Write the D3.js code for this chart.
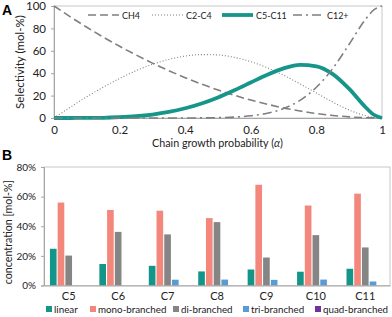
<!DOCTYPE html>
<html>
<head>
<meta charset="utf-8">
<script src="https://cdn.jsdelivr.net/npm/d3@7"></script>
<style>
  body { margin: 0; background: #fff; }
  svg { font-family: Lato, "Open Sans", sans-serif; }
</style>
</head>
<body>
<div id="chart"></div>
<script>
// panel A: selectivity vs chain growth probability
var alpha = [0, 0.05, 0.1, 0.15, 0.2, 0.25, 0.3, 0.35, 0.4, 0.45, 0.5, 0.55, 0.6, 0.65, 0.7, 0.75, 0.8, 0.85, 0.9, 0.95, 0.975, 1];
var ch4   = [100, 90.3, 81, 72.3, 64, 56.3, 49, 42.3, 36, 30.3, 25, 20.3, 16, 12.3, 9, 6.3, 4, 2.3, 1, 0.3, 0.1, 0];
var c2c4  = [0, 9.7, 19, 27.5, 35.3, 42.2, 47.9, 52.3, 55.3, 56.6, 56.3, 54.1, 50.3, 44.9, 38.2, 30.5, 22.3, 14.2, 7.1, 2, 0.5, 0];
var c5c11 = [0, 0, 0.1, 0.2, 0.7, 1.6, 3.1, 5.4, 8.7, 13, 18.4, 24.8, 31.7, 38.6, 44.3, 47.4, 46.2, 39.2, 26, 9.6, 2.9, 0];
var c12   = [0, 0, 0, 0, 0, 0, 0, 0, 0, 0.1, 0.3, 0.8, 2, 4.2, 8.5, 15.8, 27.5, 44.3, 65.9, 88.2, 96.5, 100];
var xTicksA = [0, 0.2, 0.4, 0.6, 0.8, 1];
var yTicksA = [0, 20, 40, 60, 80, 100];

// panel B: isomer distribution
var carbons = ["C5", "C6", "C7", "C8", "C9", "C10", "C11"];
var isomers = ["linear", "mono-branched", "di-branched", "tri-branched", "quad-branched"];
var linear = [24.8, 14.5, 13.3, 9.5, 10.8, 9.3, 11.3];
var mono   = [56, 51, 50.5, 45.5, 68, 54, 62];
var di     = [20.2, 36.2, 34.5, 42.8, 18.9, 34, 25.7];
var tri    = [0, 0, 3.9, 4, 3.8, 4, 2.7];
var quad   = [0, 0, 0, 0, 0, 0, 0];
var yTicksB = [0, 20, 40, 60, 80];

var teal = "#16968a";
var lineGrey = "#7f7f7f";
var barColors = ["#14958a", "#f4877c", "#858585", "#5b9bd5", "#7030a0"];
var textCol = "#222";

var svg = d3.select("#chart").append("svg")
  .attr("width", 392)
  .attr("height", 317);

// scale a text's font so it covers the width seen in the reference
function fit(sel, w) {
  var fs = parseFloat(sel.attr("font-size"));
  var len = sel.node().getComputedTextLength();
  if (len > 0) sel.attr("font-size", (fs * w / len).toFixed(2));
  return sel;
}
// same, but one font size for a whole set of texts
function fitAll(list, total) {
  var fs = parseFloat(list[0].attr("font-size"));
  var len = d3.sum(list, function (t) { return t.node().getComputedTextLength(); });
  list.forEach(function (t) { t.attr("font-size", (fs * total / len).toFixed(2)); });
}

// ---------- panel A ----------
var A = { left: 54, right: 382, top: 6, bottom: 118 };
var xA = d3.scaleLinear().domain([0, 1]).range([A.left, A.right]);
var yA = d3.scaleLinear().domain([0, 100]).range([A.bottom, A.top]);

svg.append("rect")
  .attr("x", A.left).attr("y", A.top)
  .attr("width", A.right - A.left).attr("height", A.bottom - A.top)
  .attr("fill", "none").attr("stroke", "#c8c8c8").attr("stroke-width", 1);

var gxA = svg.append("g").attr("transform", "translate(0," + A.bottom + ")")
  .call(d3.axisBottom(xA).tickValues(xTicksA).tickSize(0).tickPadding(8).tickFormat(d3.format("~g")));
var gyA = svg.append("g").attr("transform", "translate(" + A.left + ",0)")
  .call(d3.axisLeft(yA).tickValues(yTicksA).tickSize(3).tickPadding(5));
[gxA, gyA].forEach(function (g) {
  g.select(".domain").attr("stroke", "#a6a6a6");
  g.selectAll(".tick line").attr("stroke", "#a6a6a6");
  g.selectAll("text").attr("font-size", 11.5).attr("fill", textCol).attr("font-family", "Lato");
});

var seriesA = [
  { name: "CH4", values: ch4, color: lineGrey, width: 1.6, dash: "8,4" },
  { name: "C2-C4", values: c2c4, color: lineGrey, width: 1.1, dash: "1,2" },
  { name: "C5-C11", values: c5c11, color: teal, width: 3.8, dash: null },
  { name: "C12+", values: c12, color: lineGrey, width: 1.6, dash: "9,4,2,4" }
];

var line = d3.line()
  .x(function (d, i) { return xA(alpha[i]); })
  .y(function (d) { return yA(d); })
  .curve(d3.curveMonotoneX);

seriesA.forEach(function (s) {
  svg.append("path")
    .datum(s.values)
    .attr("d", line)
    .attr("fill", "none")
    .attr("stroke", s.color)
    .attr("stroke-width", s.width)
    .attr("stroke-dasharray", s.dash);
});

// legend A
var legA = [88, 152, 222, 293];
var legAText = [];
seriesA.forEach(function (s, i) {
  var lx = legA[i];
  svg.append("line")
    .attr("x1", lx).attr("x2", lx + 31)
    .attr("y1", 15).attr("y2", 15)
    .attr("stroke", s.color).attr("stroke-width", s.width)
    .attr("stroke-dasharray", s.dash);
  legAText.push(svg.append("text")
    .attr("x", lx + 34).attr("y", 19)
    .attr("font-size", 11).attr("fill", textCol)
    .text(s.name));
});
fitAll(legAText, 96);

var titleA = svg.append("text")
  .attr("x", 152).attr("y", 147)
  .attr("font-size", 12).attr("fill", textCol)
  .html("Chain growth probability (<tspan font-style='italic'>α</tspan>)");
fit(titleA, 131);

var yLabA = svg.append("text")
  .attr("transform", "translate(24," + ((A.top + A.bottom) / 2) + ") rotate(-90)")
  .attr("text-anchor", "middle").attr("font-size", 12).attr("fill", textCol)
  .text("Selectivity (mol-%)");
fit(yLabA, 94);

svg.append("text")
  .attr("x", 2).attr("y", 15)
  .attr("font-size", 14).attr("font-weight", "bold").attr("font-family", "Liberation Sans, Arial")
  .text("A");

// ---------- panel B ----------
var B = { left: 44, right: 390, top: 167, bottom: 285.5 };
var x0 = d3.scaleBand().domain(carbons).range([B.left, B.right]).paddingInner(0.24).paddingOuter(0.12);
var x1 = d3.scaleBand().domain(isomers).range([0, x0.bandwidth()]).paddingInner(0.14);
var yB = d3.scaleLinear().domain([0, 80]).range([B.bottom, B.top]);

svg.append("rect")
  .attr("x", B.left).attr("y", B.top)
  .attr("width", B.right - B.left).attr("height", B.bottom - B.top)
  .attr("fill", "none").attr("stroke", "#c8c8c8").attr("stroke-width", 1);

var tableB = carbons.map(function (c, i) {
  return { carbon: c, vals: [linear[i], mono[i], di[i], tri[i], quad[i]] };
});

var groups = svg.selectAll(".grp").data(tableB).enter().append("g")
  .attr("class", "grp")
  .attr("transform", function (d) { return "translate(" + x0(d.carbon) + ",0)"; });

groups.selectAll("rect")
  .data(function (d) { return d.vals.map(function (v, j) { return { key: isomers[j], v: v, j: j }; }); })
  .enter().append("rect")
  .attr("x", function (d) { return x1(d.key); })
  .attr("y", function (d) { return yB(d.v); })
  .attr("width", x1.bandwidth())
  .attr("height", function (d) { return yB(0) - yB(d.v); })
  .attr("fill", function (d) { return barColors[d.j]; });

var gyB = svg.append("g").attr("transform", "translate(" + B.left + ",0)")
  .call(d3.axisLeft(yB).tickValues(yTicksB).tickSize(3).tickPadding(5).tickFormat(function (d) { return d + "%"; }));
var gxB = svg.append("g").attr("transform", "translate(0," + B.bottom + ")")
  .call(d3.axisBottom(x0).tickSize(0).tickPadding(7));
[gxB, gyB].forEach(function (g) {
  g.select(".domain").attr("stroke", "#a6a6a6");
  g.selectAll(".tick line").attr("stroke", "#a6a6a6");
  g.selectAll("text").attr("fill", textCol).attr("font-family", "Lato");
});
gyB.selectAll("text").attr("font-size", 10);
gxB.selectAll("text").attr("font-size", 11);

var yLabB = svg.append("text")
  .attr("transform", "translate(12," + ((B.top + B.bottom) / 2 + 6) + ") rotate(-90)")
  .attr("text-anchor", "middle").attr("font-size", 11).attr("fill", textCol)
  .text("concentration [mol-%]");
fit(yLabB, 104);

svg.append("text")
  .attr("x", 2).attr("y", 160)
  .attr("font-size", 14).attr("font-weight", "bold").attr("font-family", "Liberation Sans, Arial")
  .text("B");

// legend B
var legB = [46, 90, 173, 243, 315];
var legBText = [];
isomers.forEach(function (name, i) {
  svg.append("rect")
    .attr("x", legB[i]).attr("y", 306)
    .attr("width", 6).attr("height", 6)
    .attr("fill", barColors[i]);
  legBText.push(svg.append("text")
    .attr("x", legB[i] + 8).attr("y", 313)
    .attr("font-size", 11).attr("fill", textCol)
    .text(name));
});
fitAll(legBText, 262);
</script>
</body>
</html>
